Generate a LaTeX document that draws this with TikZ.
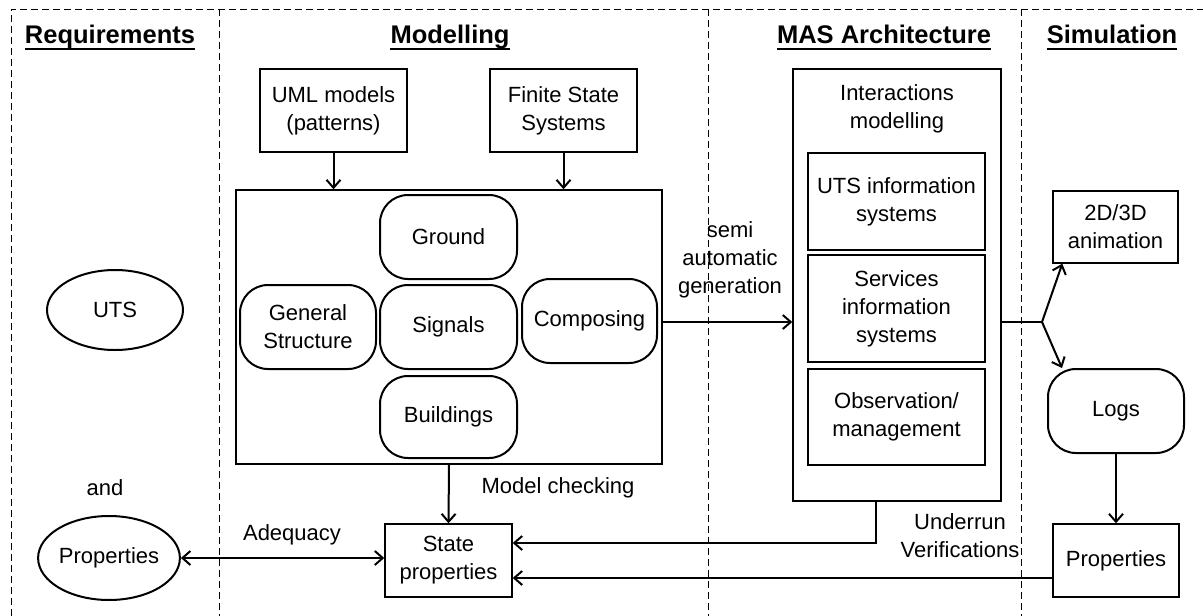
\documentclass[tikz,border=0pt]{standalone}
\usepackage{fontspec}
\setmainfont{Liberation Sans}
\usetikzlibrary{shapes.geometric,arrows.meta}
\begin{document}
\begin{tikzpicture}[x=1pt,y=-1pt,
  every node/.style={font=\fontsize{22}{28}\selectfont, inner sep=0pt, align=center},
  box/.style={draw, line width=1.4pt, rectangle},
  rbox/.style={draw, line width=2pt, rectangle, rounded corners=28pt},
  ell/.style={draw, line width=2pt, ellipse},
  lbl/.style={},
  hdr/.style={font=\fontsize{25.5}{30}\selectfont\bfseries, anchor=base},
  frame/.style={dash pattern=on 7pt off 4pt, line width=1pt},
  uline/.style={line width=1.6pt},
  arr/.style={line width=2pt, -{Straight Barb[length=8pt,width=14pt,line width=2pt]}},
  arrtwo/.style={line width=2pt, {Straight Barb[length=8pt,width=14pt,line width=2pt]}-{Straight Barb[length=8pt,width=14pt,line width=2pt]}},
  plain/.style={line width=1.6pt}]
\useasboundingbox (0,0) rectangle (1203,616);
% frame
\draw[frame] (11,616) -- (11,9) -- (1203,9);
\draw[frame] (219,9) -- (219,616);
\draw[frame] (708,9) -- (708,616);
\draw[frame] (1021,9) -- (1021,616);
% headers
\node[hdr] (h1) at (110,43) {Requirements};
\node[hdr] (h2) at (450,43) {Modelling};
\node[hdr] (h3) at (884,43) {MAS Architecture};
\node[hdr] (h4) at (1112,43) {Simulation};
\foreach \h in {h1,h2,h3,h4}
  \draw[uline] ([yshift=-6pt]\h.base west) -- ([yshift=-6pt]\h.base east);
% requirements
\node[ell, minimum width=136pt, minimum height=80pt] (uts) at (115,310) {UTS};
\node[lbl] (and) at (105,488) {and};
\node[ell, minimum width=136pt, minimum height=84pt] (pell) at (109,558) {Properties};
% modelling
\node[box, minimum width=147pt, minimum height=83pt] (uml) at (333.5,110.5) {UML models\\(patterns)};
\node[box, minimum width=147pt, minimum height=83pt] (fsm) at (563.5,110.5) {Finite State\\Systems};
\node[box, minimum width=426pt, minimum height=274pt] (big) at (449,327) {};
\node[rbox, minimum width=137pt, minimum height=84pt] (ground) at (448.5,237) {Ground};
\node[rbox, minimum width=136pt, minimum height=84pt] (general) at (308,327) {General\\Structure};
\node[rbox, minimum width=137pt, minimum height=84pt] (signals) at (448.5,327) {Signals};
\node[rbox, minimum width=135pt, minimum height=84pt] (composing) at (589.5,321) {Composing};
\node[rbox, minimum width=137pt, minimum height=82pt] (buildings) at (448.5,417) {Buildings};
\node[box, minimum width=127pt, minimum height=73pt] (state) at (448.5,560.5) {State\\properties};
\node[lbl] (mc) at (558,488) {Model checking};
\node[lbl] (adeq) at (292,535) {Adequacy};
\node[lbl] (semi) at (730,260) {semi\\automatic\\generation};
% MAS
\node[box, minimum width=208pt, minimum height=432pt] (mas) at (897,285) {};
\node[lbl] (inter) at (897,109) {Interactions\\modelling};
\node[box, minimum width=177pt, minimum height=97pt] (utsinfo) at (896.5,201.5) {UTS information\\systems};
\node[box, minimum width=177pt, minimum height=107pt] (serv) at (896.5,308.5) {Services\\information\\systems};
\node[box, minimum width=177pt, minimum height=96pt] (obs) at (896.5,417) {Observation/\\management};
\node[lbl] (under) at (960,536) {Underrun\\Verifications};
% simulation
\node[box, minimum width=125pt, minimum height=72pt] (anim) at (1115.5,227) {2D/3D\\animation};
\node[rbox, minimum width=136pt, minimum height=84pt] (logs) at (1116,411) {Logs};
\node[box, minimum width=126pt, minimum height=73pt] (sprop) at (1116,560.5) {Properties};
% connectors
\draw[arr] (uml.south) -- (uml.south |- big.north);
\draw[arr] (fsm.south) -- (fsm.south |- big.north);
\draw[arr] (big.east |- 0,322) -- (mas.west |- 0,322);
\coordinate (br) at (1042,322);
\draw[plain] (mas.east |- br) -- (br);
\draw[arr] (br) -- ([xshift=10pt]anim.south west);
\draw[arr] (br) -- ([xshift=15pt]logs.north west);
\draw[arr] (logs.south) -- (sprop.north);
\draw[arr] (big.south) -- (state.north);
\draw[arrtwo] (pell.east) -- (pell.east -| state.west);
\draw[arr] ([xshift=-21pt]mas.south) |- ([yshift=17.5pt]state.east);
\draw[arr] ([yshift=-17.5pt]sprop.west) -- ([yshift=-17.5pt]state.east);
\end{tikzpicture}
\end{document}
